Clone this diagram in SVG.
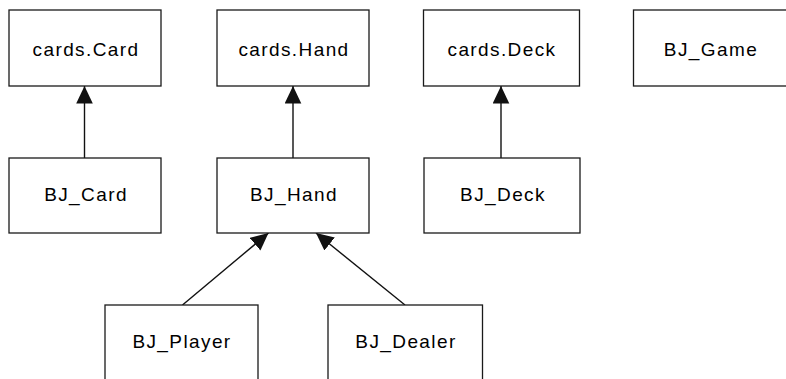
<svg xmlns="http://www.w3.org/2000/svg" width="786" height="379" viewBox="0 0 786 379">
<style>
.box{fill:#fff;stroke:#1a1a1a;stroke-width:1.3}
.lbl{font-family:"Liberation Sans",Arial,sans-serif;font-size:19px;letter-spacing:1.4px;fill:#000;text-anchor:middle}
.edge{stroke:#111;stroke-width:1.4;fill:none}
</style>
<defs>
<marker id="tri" markerUnits="userSpaceOnUse" markerWidth="18" markerHeight="17" refX="17.5" refY="8.3" orient="auto">
<path d="M0,0 L17.5,8.3 L0,16.6 z" fill="#111"/>
</marker>
</defs>
<rect width="786" height="379" fill="#fff"/>
<g id="connectors">
<line class="edge" x1="84.5" y1="158" x2="84.5" y2="86" marker-end="url(#tri)"/>
<line class="edge" x1="293" y1="158" x2="293" y2="86" marker-end="url(#tri)"/>
<line class="edge" x1="501" y1="158" x2="501" y2="86" marker-end="url(#tri)"/>
<line class="edge" x1="182.5" y1="305" x2="268.5" y2="233" marker-end="url(#tri)"/>
<line class="edge" x1="405" y1="305" x2="316" y2="233" marker-end="url(#tri)"/>
</g>
<g id="cards_Card"><rect class="box" x="9" y="10" width="152" height="76"/><text class="lbl" x="86" y="56">cards.Card</text></g>
<g id="cards_Hand"><rect class="box" x="217" y="10" width="152" height="76"/><text class="lbl" x="294" y="56">cards.Hand</text></g>
<g id="cards_Deck"><rect class="box" x="423.5" y="10" width="156" height="76"/><text class="lbl" x="502" y="56">cards.Deck</text></g>
<g id="BJ_Game"><rect class="box" x="633.5" y="10" width="160" height="76"/><text class="lbl" x="711" y="56">BJ_Game</text></g>
<g id="BJ_Card"><rect class="box" x="9" y="158" width="152" height="75"/><text class="lbl" x="86" y="201">BJ_Card</text></g>
<g id="BJ_Hand"><rect class="box" x="217" y="158" width="152" height="75"/><text class="lbl" x="294" y="201">BJ_Hand</text></g>
<g id="BJ_Deck"><rect class="box" x="424" y="158" width="156" height="75"/><text class="lbl" x="503" y="201">BJ_Deck</text></g>
<g id="BJ_Player"><rect class="box" x="105" y="305" width="153" height="90"/><text class="lbl" x="182" y="348">BJ_Player</text></g>
<g id="BJ_Dealer"><rect class="box" x="328" y="305" width="154.5" height="90"/><text class="lbl" x="406" y="348">BJ_Dealer</text></g>
</svg>
